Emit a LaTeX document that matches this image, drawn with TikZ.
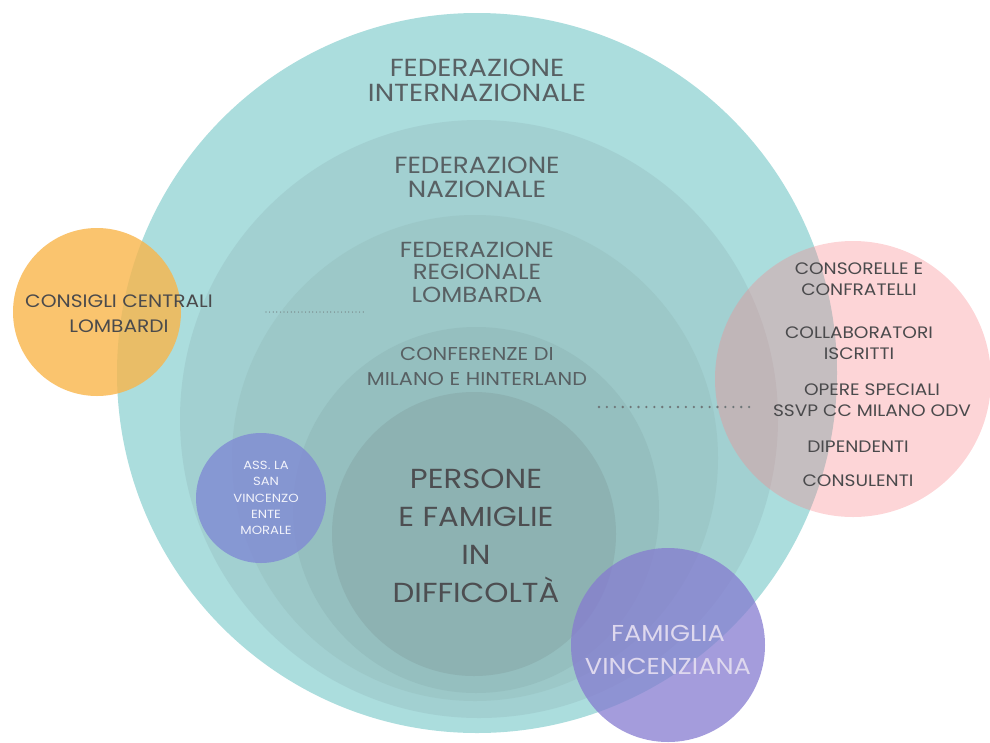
\documentclass[tikz,border=0pt]{standalone}
\usepackage{fontspec}
\setmainfont{Poppins}[FakeStretch=1.12]
\definecolor{cA}{RGB}{171,221,221}
\definecolor{cB}{RGB}{162,208,209}
\definecolor{cC}{RGB}{156,200,200}
\definecolor{cD}{RGB}{149,191,191}
\definecolor{cE}{RGB}{141,178,178}
\definecolor{orng}{RGB}{249,181,74}
\definecolor{pnk}{RGB}{250,132,138}
\definecolor{prpl}{RGB}{133,123,208}
\definecolor{blu}{RGB}{128,138,212}
\definecolor{txt}{RGB}{88,96,99}
\definecolor{txtd}{RGB}{74,74,76}
\definecolor{txtl}{RGB}{222,216,238}
\definecolor{dotc}{RGB}{110,118,120}
\tikzset{
  disc/.style={circle, inner sep=0pt, draw=none},
  lbl/.style={align=center, text=txt, inner sep=0pt},
  pinklbl/.style={lbl, text=txtd, font=\fontsize{16.6}{21.5}\selectfont},
  dotline/.style={draw=dotc, line cap=round, line width=1.2pt, dash pattern=on 0pt off 3.6pt},
  dotlineb/.style={draw=dotc, line cap=round, line width=2.6pt, dash pattern=on 0pt off 7.9pt}
}
\begin{document}
\begin{tikzpicture}[x=1pt,y=-1pt]
\useasboundingbox (0,0) rectangle (990,742);
% nested circles
\node[disc, fill=cA, minimum size=720pt] (c1) at (477,373) {};
\node[disc, fill=cB, minimum size=598pt] (c2) at (479,419) {};
\node[disc, fill=cC, minimum size=486pt] (c3) at (475,458) {};
\node[disc, fill=cD, minimum size=366pt] (c4) at (476,510) {};
\node[disc, fill=cE, minimum size=284pt] (c5) at (474,534) {};
% side circles
\node[disc, fill=blu, fill opacity=0.8, minimum size=130pt] (cs) at (261,498) {};
\node[disc, fill=prpl, fill opacity=0.75, minimum size=194pt] (cf) at (668,645) {};
\node[disc, fill=pnk, fill opacity=0.34, minimum size=276pt] (cp) at (853,379) {};
\node[disc, fill=orng, fill opacity=0.8, minimum size=168pt] (co) at (97,312) {};
% labels
\node[lbl, font=\fontsize{24.7}{25}\selectfont] (t1) at (477,80) {FEDERAZIONE\\INTERNAZIONALE};
\node[lbl, font=\fontsize{23.4}{24}\selectfont] (t2) at (477,177) {FEDERAZIONE\\NAZIONALE};
\node[lbl, font=\fontsize{21.8}{22.5}\selectfont] (t3) at (477,272) {FEDERAZIONE\\REGIONALE\\LOMBARDA};
\node[lbl, font=\fontsize{18.6}{25}\selectfont] (t4) at (477,366) {CONFERENZE DI\\MILANO E HINTERLAND};
\node[lbl, font=\fontsize{27.5}{38}\selectfont, text=txtd!80!txt] (t5) at (476,536) {PERSONE\\E FAMIGLIE\\IN\\DIFFICOLTÀ};
\node[lbl, font=\fontsize{18}{25}\selectfont, text=txtd] (to) at (119,314) {CONSIGLI CENTRALI\\LOMBARDI};
\node[lbl, font=\fontsize{11.8}{16.2}\selectfont, text=white!90!blu] (ts) at (266,498) {ASS. LA\\SAN\\VINCENZO\\ENTE\\MORALE};
\node[lbl, font=\fontsize{23}{33}\selectfont, text=txtl] (tf) at (668,650) {FAMIGLIA\\VINCENZIANA};
\node[pinklbl] (tp1) at (859,279) {CONSORELLE E\\CONFRATELLI};
\node[pinklbl] (tp2) at (859,343) {COLLABORATORI\\ISCRITTI};
\node[pinklbl] (tp3) at (872,400) {OPERE SPECIALI\\SSVP CC MILANO ODV};
\node[pinklbl] (tp4) at (858,447) {DIPENDENTI};
\node[pinklbl] (tp5) at (858,481) {CONSULENTI};
% dotted connectors
\coordinate (la) at (266,312);
\coordinate (lb) at (366,312);
\coordinate (ra) at (599,407);
\coordinate (rb) at (752,407);
\draw[dotline] (la) -- (lb);
\draw[dotlineb] (ra) -- (rb);
\end{tikzpicture}
\end{document}
